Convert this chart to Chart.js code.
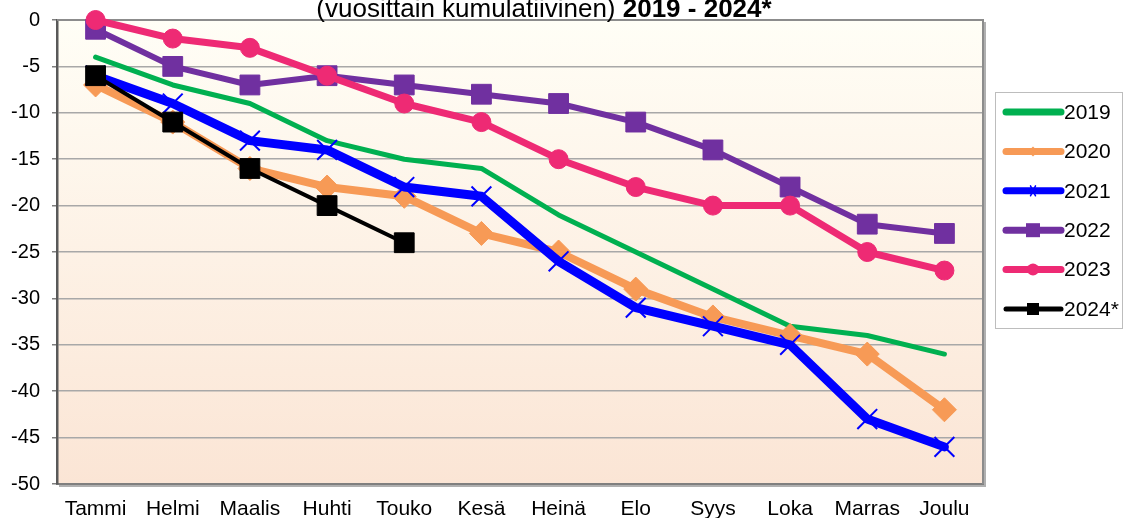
<!DOCTYPE html>
<html>
<head>
<meta charset="utf-8">
<script src="https://cdn.jsdelivr.net/npm/chart.js@4.4.1/dist/chart.umd.min.js"></script>
<style>
html, body { margin: 0; padding: 0; background: #fff; }
#wrap { width: 1124px; height: 518px; }
</style>
</head>
<body>
<div id="wrap"><canvas id="chart" width="1124" height="518"></canvas></div>
<script>
// chart data
var months = ['Tammi', 'Helmi', 'Maalis', 'Huhti', 'Touko', 'Kesä', 'Heinä', 'Elo', 'Syys', 'Loka', 'Marras', 'Joulu'];
var years = ['2019', '2020', '2021', '2022', '2023', '2024*'];
var v2019 = [-4, -7, -9, -13, -15, -16, -21, -25, -29, -33, -34, -36];
var v2020 = [-7, -11, -16, -18, -19, -23, -25, -29, -32, -34, -36, -42];
var v2021 = [-6, -9, -13, -14, -18, -19, -26, -31, -33, -35, -43, -46];
var v2022 = [-1, -5, -7, -6, -7, -8, -9, -11, -14, -18, -22, -23];
var v2023 = [0, -2, -3, -6, -9, -11, -15, -18, -20, -20, -25, -27];
var v2024 = [-6, -11, -16, -20, -24, null, null, null, null, null, null, null];
var yMin = -50, yMax = 0, yStep = 5;
var titleNormal = '(vuosittain kumulatiivinen) ';
var titleBold = '2019 - 2024*';

var FONT = '"Liberation Sans", Arial, sans-serif';
Chart.defaults.font.family = FONT;
Chart.defaults.font.size = 20;
Chart.defaults.color = '#000';

function series(label, data, color, width, style, radius, order) {
    return {
        label: label,
        data: data,
        borderColor: color,
        backgroundColor: color,
        borderWidth: width,
        borderCapStyle: 'round',
        borderJoinStyle: 'round',
        pointStyle: style,
        pointRadius: radius,
        pointBorderWidth: style === 'crossRot' ? 2 : 1,
        pointBorderColor: color,
        pointBackgroundColor: color,
        tension: 0,
        clip: false,
        spanGaps: false,
        order: order
    };
}

var datasets = [
    series(years[0], v2019, '#00B050', 5, 'circle', 0, 6),
    series(years[1], v2020, '#F79A56', 8, 'rectRot', 12, 5),
    series(years[2], v2021, '#0000FF', 9, 'crossRot', 14, 4),
    series(years[3], v2022, '#7030A0', 6, 'rect', 14, 3),
    series(years[4], v2023, '#EE2A74', 7, 'circle', 9.5, 2),
    series(years[5], v2024, '#000000', 4, 'rect', 14, 1)
];

// plot background + frame
var plotBg = {
    id: 'plotBg',
    beforeDraw: function(chart) {
        var ctx = chart.ctx, a = chart.chartArea;
        ctx.save();
        ctx.fillStyle = '#fff';
        ctx.fillRect(0, 0, chart.width, chart.height);
        var g = ctx.createLinearGradient(0, a.top, 0, a.bottom);
        g.addColorStop(0, '#FFFEF6');
        g.addColorStop(1, '#FBE5D5');
        ctx.fillStyle = g;
        ctx.fillRect(a.left, a.top, a.right - a.left, a.bottom - a.top);
        ctx.restore();
    },
    beforeDatasetsDraw: function(chart) {
        var ctx = chart.ctx, a = chart.chartArea;
        ctx.save();
        ctx.strokeStyle = '#8C8C8C';
        ctx.lineWidth = 2;
        ctx.beginPath();
        ctx.moveTo(a.left, a.top);
        ctx.lineTo(a.right, a.top);
        ctx.lineTo(a.right, a.bottom);
        ctx.stroke();
        ctx.strokeStyle = '#B0B0B0';
        ctx.lineWidth = 2;
        ctx.beginPath();
        ctx.moveTo(a.right + 2, a.top + 2);
        ctx.lineTo(a.right + 2, a.bottom + 2);
        ctx.lineTo(a.left + 2, a.bottom + 2);
        ctx.stroke();
        ctx.restore();
    }
};

// title, partly above the canvas edge like the original
var titlePlugin = {
    id: 'titleLine',
    afterDraw: function(chart) {
        var ctx = chart.ctx;
        ctx.save();
        ctx.fillStyle = '#000';
        ctx.textBaseline = 'alphabetic';
        ctx.font = '26px ' + FONT;
        var w1 = ctx.measureText(titleNormal).width;
        ctx.font = 'bold 26px ' + FONT;
        var w2 = ctx.measureText(titleBold).width;
        var x = 544 - (w1 + w2) / 2;
        ctx.font = '26px ' + FONT;
        ctx.fillText(titleNormal, x, 17);
        ctx.font = 'bold 26px ' + FONT;
        ctx.fillText(titleBold, x + w1, 17);
        ctx.restore();
    }
};

function drawMarker(ctx, style, x, y, r, color) {
    ctx.fillStyle = color;
    ctx.strokeStyle = color;
    ctx.beginPath();
    if (style === 'rect') {
        ctx.rect(x - r, y - r, 2 * r, 2 * r);
        ctx.fill();
    } else if (style === 'rectRot') {
        ctx.moveTo(x, y - r); ctx.lineTo(x + r, y); ctx.lineTo(x, y + r); ctx.lineTo(x - r, y);
        ctx.closePath();
        ctx.fill();
    } else if (style === 'circle') {
        ctx.arc(x, y, r, 0, Math.PI * 2);
        ctx.fill();
    } else if (style === 'crossRot') {
        ctx.lineWidth = 1.5;
        ctx.moveTo(x - r * 0.5, y - r); ctx.lineTo(x + r * 0.5, y + r);
        ctx.moveTo(x + r * 0.5, y - r); ctx.lineTo(x - r * 0.5, y + r);
        ctx.stroke();
    }
}

// legend box on the right
var legendPlugin = {
    id: 'sideLegend',
    afterDraw: function(chart) {
        var ctx = chart.ctx;
        var bx = 995, by = 92, bw = 128, bh = 236;
        ctx.save();
        ctx.strokeStyle = '#BDBDBD';
        ctx.lineWidth = 1;
        ctx.strokeRect(bx + 0.5, by + 0.5, bw - 1, bh);
        var legendR = [0, 5, 5, 7, 6, 6];
        chart.data.datasets.forEach(function(ds, i) {
            var y = 112 + i * 39.4;
            ctx.strokeStyle = ds.borderColor;
            ctx.lineWidth = i === 5 ? 5 : 7;
            ctx.lineCap = 'round';
            ctx.beginPath();
            ctx.moveTo(1006, y);
            ctx.lineTo(1061, y);
            ctx.stroke();
            if (ds.pointRadius > 0) drawMarker(ctx, ds.pointStyle, 1033, y, legendR[i], ds.borderColor);
            ctx.fillStyle = '#000';
            ctx.font = '21px ' + FONT;
            ctx.textBaseline = 'middle';
            ctx.textAlign = 'left';
            ctx.fillText(ds.label, 1064, y + 1);
        });
        ctx.restore();
    }
};

var ctx = document.getElementById('chart').getContext('2d');
var chart = new Chart(ctx, {
    type: 'line',
    data: { labels: months, datasets: datasets },
    options: {
        responsive: false,
        animation: false,
        devicePixelRatio: 1,
        layout: { autoPadding: false, padding: { left: 0, right: 141, top: 20, bottom: 0 } },
        plugins: {
            legend: { display: false },
            title: { display: false },
            tooltip: { enabled: false }
        },
        scales: {
            x: {
                offset: true,
                grid: { display: false },
                border: { display: true, color: '#7F7F7F', width: 2 },
                ticks: { padding: 5, maxRotation: 0, autoSkip: false, font: { size: 21 } },
                afterFit: function(s) { s.height = 34; }
            },
            y: {
                min: yMin,
                max: yMax,
                ticks: { stepSize: yStep, padding: 12, font: { size: 20 } },
                grid: { color: '#A8A8A8', lineWidth: 1.5, tickLength: 5, tickColor: '#7F7F7F' },
                border: { display: true, color: '#595959', width: 2.5 },
                afterFit: function(s) {
                    s.width = 57;
                    s.paddingTop = 12;
                    s.paddingBottom = 12;
                }
            }
        }
    },
    plugins: [plotBg, titlePlugin, legendPlugin]
});
</script>
</body>
</html>
